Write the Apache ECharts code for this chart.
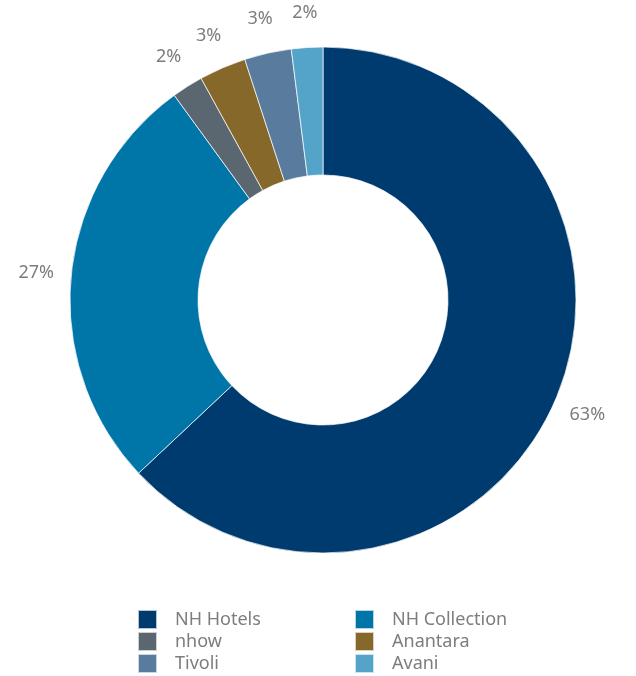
<!DOCTYPE html>
<html>
<head>
<meta charset="utf-8">
<script src="https://cdn.jsdelivr.net/npm/echarts@6/dist/echarts.min.js"></script>
<style>
  html, body { margin: 0; padding: 0; background: #fff; }
  #chart { width: 636px; height: 676px; }
</style>
</head>
<body>
<div id="chart"></div>
<script>
    // datos del gráfico
    var brands = ['NH Hotels', 'NH Collection', 'nhow', 'Anantara', 'Tivoli', 'Avani'];
    var shares = [63, 27, 2, 3, 3, 2];
    var colorArr = ['#003b6f', '#0076a8', '#5b6770', '#85682a', '#587b9e', '#54a4c9'];
    var legendLeft = ['NH Hotels', 'nhow', 'Tivoli'];
    var legendRight = ['NH Collection', 'Anantara', 'Avani'];

    var pieCenter = [323, 300];
    var labelRadius = 288; // etiquetas centradas a esta distancia del centro

    var pieData = [];
    for (var i = 0; i < brands.length; i++) {
        pieData.push({value: shares[i], name: brands[i], itemStyle: {color: colorArr[i]}});
    }

    var legendBase = {
        orient: 'vertical',
        top: 609,
        height: 200,
        padding: 0,
        itemWidth: 19,
        itemHeight: 19,
        itemGap: 1,
        icon: 'rect',
        selectedMode: false,
        textStyle: {
            fontFamily: 'Noto Sans',
            fontSize: 18,
            lineHeight: 19,
            color: '#7d7d7d',
            padding: [0, 0, 0, 13]
        }
    };

    var myChart = echarts.init(document.getElementById('chart'), null, {renderer: 'canvas'});
    var option = {
        animation: false,
        legend: [
            Object.assign({}, legendBase, {left: 137, data: legendLeft}),
            Object.assign({}, legendBase, {left: 354, data: legendRight})
        ],
        series: [
            {
                type: 'pie',
                center: pieCenter,
                radius: [125, 253],
                startAngle: 90,
                clockwise: true,
                avoidLabelOverlap: false,
                itemStyle: {
                    borderColor: 'rgba(255,255,255,0.7)',
                    borderWidth: 1
                },
                label: {
                    show: true,
                    position: 'outside',
                    formatter: '{d}%',
                    fontFamily: 'Noto Sans',
                    fontSize: 18,
                    color: '#7d7d7d'
                },
                labelLine: {
                    show: true,
                    length: 10,
                    length2: 0,
                    lineStyle: {opacity: 0}
                },
                // etiqueta centrada sobre el ángulo medio del sector
                labelLayout: function (params) {
                    var pts = params.labelLinePoints;
                    if (!pts) {
                        return {};
                    }
                    var dx = pts[0][0] - pieCenter[0];
                    var dy = pts[0][1] - pieCenter[1];
                    var k = labelRadius / Math.sqrt(dx * dx + dy * dy);
                    return {
                        x: pieCenter[0] + dx * k,
                        y: pieCenter[1] + dy * k,
                        align: 'center',
                        verticalAlign: 'middle'
                    };
                },
                data: pieData
            }
        ]
    };
    myChart.setOption(option);
</script>
</body>
</html>
